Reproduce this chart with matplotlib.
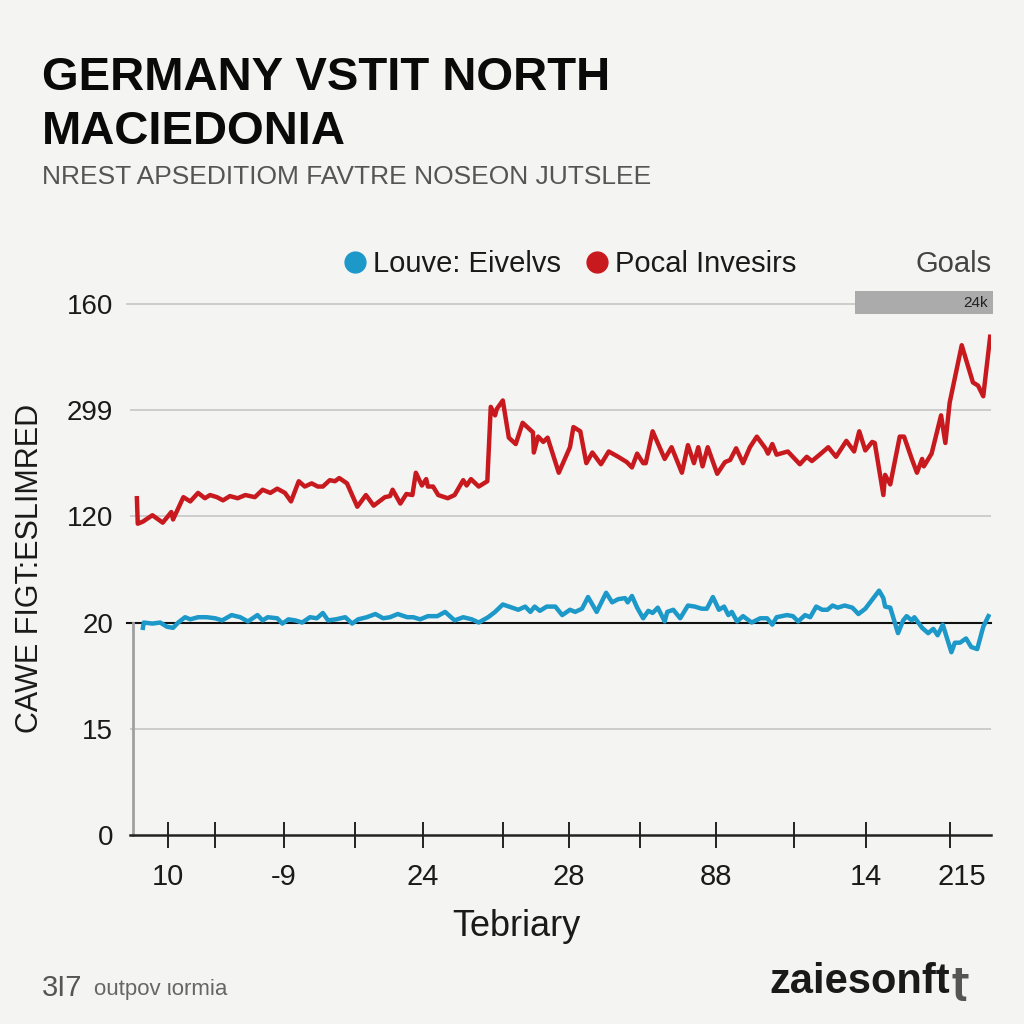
### IMPORTS ###

import matplotlib
matplotlib.use('Agg')
import matplotlib.pyplot as plt
import matplotlib.transforms as mtransforms
from matplotlib.lines import Line2D
from matplotlib.patches import Rectangle

### DATA ###

# Red series (Pocal Invesirs):
red_x = [0.8, 0.9, 1.5, 2.6, 3.8, 4.8, 5.0, 6.2, 7.0, 7.9, 8.7, 9.3, 10.1, 10.8, 11.6, 12.5,
         13.4, 14.5, 15.4, 16.3, 17.1, 18.0, 18.7, 19.6, 20.3, 21.1, 21.8, 22.4, 23.2, 23.8,
         24.3, 25.2, 26.4, 27.4, 28.3, 29.6, 30.2, 30.5, 31.4, 32.1, 32.8, 33.2, 33.9, 34.4,
         34.6, 35.2, 35.8, 36.9, 37.7, 38.7, 39.1, 39.6, 40.5, 41.5, 41.9, 42.4, 42.6, 43.3,
         44.0, 44.8, 45.6, 46.8, 46.9, 47.4, 48.0, 48.5, 49.8, 51.1, 51.5, 52.3, 53.0, 53.7,
         54.7, 55.6, 56.7, 57.7, 58.3, 58.9, 59.6, 59.9, 60.7, 62.1, 62.9, 64.1, 64.8, 65.5,
         66.0, 66.5, 67.1, 68.2, 69.1, 69.7, 70.4, 71.2, 72.0, 72.8, 73.8, 74.1, 74.6, 75.1,
         76.4, 77.8, 78.6, 79.2, 80.1, 81.1, 82.0, 83.2, 84.1, 84.7, 85.4, 86.2, 86.5, 87.5,
         87.7, 88.3, 89.4, 89.9, 90.8, 91.4, 92.0, 92.2, 93.1, 94.2, 94.7, 95.2, 96.6, 97.9,
         98.5, 99.1, 99.9]
red_y = [31.7, 29.3, 29.5, 30.1, 29.4, 30.4, 29.7, 31.8, 31.4, 32.2, 31.7, 32.0, 31.8, 31.5,
         31.9, 31.7, 32.0, 31.8, 32.5, 32.2, 32.6, 32.2, 31.4, 33.3, 32.8, 33.1, 32.8, 32.8,
         33.4, 33.3, 33.6, 33.1, 30.9, 32.0, 31.0, 31.8, 31.9, 32.5, 31.2, 32.1, 32.0, 34.1,
         32.9, 33.5, 32.8, 32.8, 32.0, 31.7, 32.0, 33.4, 32.9, 33.5, 32.8, 33.3, 40.3, 39.5,
         40.1, 40.9, 37.4, 36.8, 38.8, 37.9, 36.0, 37.5, 37.0, 37.4, 34.1, 36.5, 38.4, 38.0,
         35.0, 36.0, 34.9, 36.1, 35.6, 35.1, 34.6, 35.9, 35.0, 35.0, 38.0, 35.4, 36.5, 34.1,
         36.7, 35.0, 36.5, 34.7, 36.5, 34.0, 35.1, 35.3, 36.4, 35.0, 36.5, 37.5, 36.4, 35.9,
         36.8, 35.8, 36.1, 34.9, 35.6, 35.2, 35.8, 36.5, 35.6, 37.1, 36.1, 38.0, 36.2, 37.0,
         36.9, 32.0, 33.9, 33.0, 37.5, 37.5, 35.4, 34.1, 35.4, 34.7, 35.9, 39.5, 36.9, 40.7,
         46.1, 42.6, 42.3, 41.3, 46.9]

# Blue series (Louve: Eivelvs):
blue_x = [1.5, 1.6, 2.6, 3.5, 4.3, 5.0, 5.6, 6.4, 7.0, 7.9, 8.9, 9.9, 10.7, 11.8, 12.8, 13.7,
          14.8, 15.4, 16.0, 17.1, 17.7, 18.4, 19.2, 20.0, 20.9, 21.7, 22.4, 23.0, 23.9, 25.0,
          25.8, 26.5, 27.5, 28.5, 29.4, 30.2, 31.1, 32.2, 32.9, 33.7, 34.6, 35.7, 36.6, 37.7,
          38.7, 39.7, 40.5, 41.6, 42.4, 43.3, 44.4, 45.1, 45.9, 46.5, 47.0, 47.6, 48.4, 49.4,
          50.2, 51.1, 51.7, 52.5, 53.2, 54.2, 55.3, 56.0, 56.7, 57.5, 57.8, 58.3, 58.9, 59.6,
          60.2, 60.7, 61.3, 62.1, 62.4, 63.1, 63.9, 64.8, 65.6, 66.4, 67.0, 67.7, 68.4, 69.0,
          69.5, 69.9, 70.5, 71.2, 72.2, 73.2, 74.0, 74.6, 75.1, 76.3, 77.0, 77.6, 78.4, 79.0,
          79.7, 80.4, 81.0, 81.6, 82.2, 83.0, 83.9, 84.6, 85.4, 87.0, 87.5, 87.7, 88.3, 89.2,
          89.8, 90.2, 90.8, 91.1, 92.0, 92.7, 93.3, 93.8, 94.4, 95.4, 95.8, 96.4, 97.1, 97.7,
          98.4, 99.1, 99.7]
blue_y = [19.5, 20.0, 19.9, 20.0, 19.6, 19.5, 20.0, 20.5, 20.3, 20.5, 20.5, 20.4, 20.2, 20.7,
          20.5, 20.1, 20.7, 20.2, 20.5, 20.4, 19.9, 20.3, 20.2, 20.0, 20.5, 20.4, 20.9, 20.2,
          20.3, 20.5, 19.9, 20.3, 20.5, 20.8, 20.4, 20.5, 20.8, 20.5, 20.5, 20.3, 20.6, 20.6,
          21.0, 20.2, 20.5, 20.3, 20.0, 20.5, 21.0, 21.7, 21.4, 21.2, 21.5, 21.0, 21.5, 21.1,
          21.5, 21.5, 20.7, 21.2, 21.0, 21.3, 22.4, 21.0, 22.8, 21.9, 22.2, 22.3, 21.9, 22.5,
          21.4, 20.4, 21.1, 20.9, 21.4, 20.1, 21.0, 21.2, 20.4, 21.6, 21.5, 21.3, 21.3, 22.4,
          21.2, 21.5, 20.7, 21.0, 20.1, 20.6, 20.0, 20.4, 20.4, 19.8, 20.5, 20.7, 20.6, 20.1,
          20.7, 20.5, 21.5, 21.2, 21.2, 21.6, 21.4, 21.6, 21.4, 20.8, 21.3, 23.0, 22.3, 21.5,
          21.4, 19.0, 20.2, 20.6, 20.2, 20.5, 19.5, 19.0, 19.4, 18.8, 19.8, 17.2, 18.1, 18.1,
          18.5, 17.7, 17.5, 19.6, 20.6]

# Axis ticks and labels:
y_ticks = [0, 10, 20, 30, 40, 50]
y_labels = ['0', '15', '20', '120', '299', '160']
x_ticks = [4.4, 9.9, 17.9, 26.1, 34.0, 43.3, 51.0, 59.2, 68.1, 77.1, 85.5, 95.2]
x_labels = ['10', '', '-9', '', '24', '', '28', '', '88', '', '14', '215']

### STYLE ###

plt.rcParams['font.family'] = ['Liberation Sans', 'DejaVu Sans']

bg = '#f4f4f3'
red = '#c8191e'
blue = '#1c98c9'

### FIGURE ###

fig = plt.figure(figsize=(10.24, 10.24), dpi=100, facecolor=bg)
ax = fig.add_axes([130 / 1024, 1 - 835 / 1024, 861 / 1024, 545 / 1024])
ax.set_facecolor(bg)
ax.set_xlim(0, 100)
ax.set_ylim(0, 51.3)

# Grid lines:
for v in [10, 30, 40]:
    ax.axhline(v, color='#c9c9c9', lw=1.3, zorder=1)
ax.plot([-0.4, 84.2], [50, 50], color='#c9c9c9', lw=1.3, zorder=1, clip_on=False)
ax.plot([-0.4, 100], [20, 20], color='#111111', lw=1.5, zorder=2, clip_on=False)

# Series:
ax.plot(red_x, red_y, color=red, lw=3.2, zorder=3, solid_joinstyle='round')
ax.plot(blue_x, blue_y, color=blue, lw=3.2, zorder=3, solid_joinstyle='round')

# Spines:
for s in ['top', 'right']:
    ax.spines[s].set_visible(False)
ax.spines['left'].set_bounds(0, 20)
ax.spines['left'].set_color('#a0a0a0')
ax.spines['left'].set_linewidth(2.0)
ax.spines['left'].set_position(('data', 0.3))
ax.spines['bottom'].set_color('#222222')
ax.spines['bottom'].set_linewidth(1.8)

# Ticks:
ax.set_yticks(y_ticks)
ax.set_yticklabels(y_labels, fontsize=20, color='#1a1a1a')
ax.tick_params(axis='y', length=0, pad=14)
ax.set_xticks(x_ticks)
ax.set_xticklabels(x_labels, fontsize=21, color='#1a1a1a')
ax.tick_params(axis='x', direction='inout', length=19, width=1.4, color='#222222', pad=11)

# Last x label sits a little right of its tick:
last = ax.get_xticklabels()[-1]
last.set_transform(last.get_transform() + mtransforms.ScaledTranslation(0.12, 0, fig.dpi_scale_trans))

ax.set_xlabel('Tebriary', fontsize=26, color='#1a1a1a')
ax.xaxis.set_label_coords(0.449, -0.135)
ax.set_ylabel('CAWE FIGT:ESLIMRED', fontsize=22, color='#1a1a1a')
ax.yaxis.set_label_coords(-0.099, 0.49)

# Gray box top right:
ax.add_patch(Rectangle((84.2, 49.0), 16.0, 2.25, facecolor='#ababab', edgecolor='none',
                       clip_on=False, zorder=2))
ax.text(99.6, 50.1, '24k', fontsize=11, color='#222222', ha='right', va='center')

# Legend:
handles = [Line2D([], [], color=blue, marker='o', ls='none', ms=15),
           Line2D([], [], color=red, marker='o', ls='none', ms=15)]
fig.legend(handles, ['Louve: Eivelvs', 'Pocal Invesirs'], loc='center left',
           bbox_to_anchor=(345 / 1024, 1 - 264 / 1024), ncol=2, frameon=False,
           fontsize=21, handlelength=0.7, handletextpad=0.25, columnspacing=0.9,
           borderpad=0, borderaxespad=0, labelcolor='#1a1a1a')
fig.text(992 / 1024, 1 - 264 / 1024, 'Goals', fontsize=21, color='#444444',
         ha='right', va='center')

# Titles:
fig.text(42 / 1024, 1 - 78 / 1024, 'GERMANY VSTIT NORTH', fontsize=34, weight='bold',
         color='#0a0a0a', va='center')
fig.text(42 / 1024, 1 - 132 / 1024, 'MACIEDONIA', fontsize=34, weight='bold',
         color='#0a0a0a', va='center')
fig.text(42 / 1024, 1 - 177 / 1024, 'NREST APSEDITIOM FAVTRE NOSEON JUTSLEE', fontsize=19,
         color='#555555', va='center')

# Footer:
fig.text(42 / 1024, 1 - 988 / 1024, '3I7', fontsize=21, color='#555555', va='center')
fig.text(94 / 1024, 1 - 990 / 1024, 'outpov ιormia', fontsize=16, color='#666666', va='center')
fig.text(950 / 1024, 1 - 982 / 1024, 'zaiesonft', fontsize=30, weight='bold',
         color='#1a1a1a', va='center', ha='right')
fig.text(952 / 1024, 1 - 984 / 1024, 'ʈ', fontsize=26, weight='bold',
         color='#555555', va='center', ha='left', family=['DejaVu Sans'])

fig.savefig('out.png', dpi=100, facecolor=bg)
